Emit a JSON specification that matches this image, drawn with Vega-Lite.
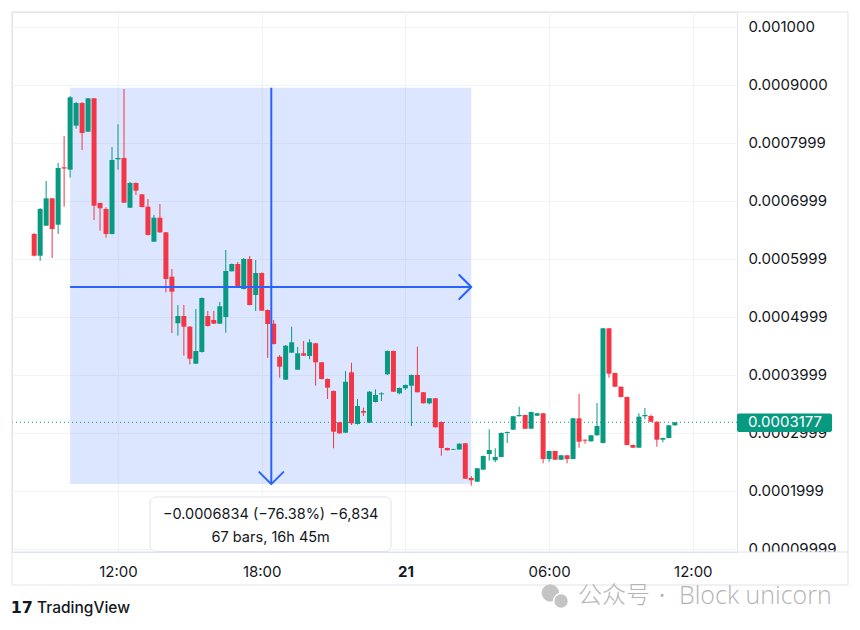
{
  "$schema": "https://vega.github.io/schema/vega-lite/v6.json",
  "width": 725,
  "height": 540,
  "autosize": {"type": "none"},
  "padding": {"left": 12, "top": 12, "right": 123, "bottom": 78},
  "background": "#ffffff",
  "config": {"view": {"stroke": "#e0e3eb", "strokeWidth": 1}, "font": "Inter", "scale": {"continuousPadding": 0}},
  "datasets": {
    "candles": [
      {"t": 8.5, "o": 0.0006425, "h": 0.0006442, "l": 0.0006037, "c": 0.0006050},
      {"t": 8.75, "o": 0.0006050, "h": 0.0006873, "l": 0.0005964, "c": 0.0006856},
      {"t": 9, "o": 0.0006568, "h": 0.0007339, "l": 0.0006563, "c": 0.0007040},
      {"t": 9.25, "o": 0.0007040, "h": 0.0007046, "l": 0.0006011, "c": 0.0006511},
      {"t": 9.5, "o": 0.0006585, "h": 0.0007649, "l": 0.0006425, "c": 0.0007563},
      {"t": 9.75, "o": 0.0007575, "h": 0.0008115, "l": 0.0006896, "c": 0.0007554},
      {"t": 10, "o": 0.0007534, "h": 0.0008805, "l": 0.0007396, "c": 0.0008782},
      {"t": 10.25, "o": 0.0008293, "h": 0.0008701, "l": 0.0008241, "c": 0.0008684},
      {"t": 10.5, "o": 0.0008684, "h": 0.0008701, "l": 0.0007873, "c": 0.0008167},
      {"t": 10.75, "o": 0.0008189, "h": 0.0008770, "l": 0.0008184, "c": 0.0008765},
      {"t": 11, "o": 0.0008765, "h": 0.0008770, "l": 0.0006666, "c": 0.0006913},
      {"t": 11.25, "o": 0.0006959, "h": 0.0006968, "l": 0.0006482, "c": 0.0006868},
      {"t": 11.5, "o": 0.0006856, "h": 0.0006885, "l": 0.0006361, "c": 0.0006425},
      {"t": 11.75, "o": 0.0006425, "h": 0.0007925, "l": 0.0006416, "c": 0.0007701},
      {"t": 12, "o": 0.0007713, "h": 0.0008317, "l": 0.0007534, "c": 0.0007736},
      {"t": 12.25, "o": 0.0007736, "h": 0.0008926, "l": 0.0006959, "c": 0.0006965},
      {"t": 12.5, "o": 0.0006878, "h": 0.0007322, "l": 0.0006873, "c": 0.0007304},
      {"t": 12.75, "o": 0.0007304, "h": 0.0007313, "l": 0.0007097, "c": 0.0007172},
      {"t": 13, "o": 0.0007109, "h": 0.0007115, "l": 0.0006882, "c": 0.0006890},
      {"t": 13.25, "o": 0.0006896, "h": 0.0007028, "l": 0.0006399, "c": 0.0006408},
      {"t": 13.5, "o": 0.0006292, "h": 0.0006752, "l": 0.0006287, "c": 0.0006706},
      {"t": 13.75, "o": 0.0006706, "h": 0.0006942, "l": 0.0006442, "c": 0.0006454},
      {"t": 14, "o": 0.0006454, "h": 0.0006459, "l": 0.0005419, "c": 0.0005649},
      {"t": 14.25, "o": 0.0005688, "h": 0.0005821, "l": 0.0004717, "c": 0.0005430},
      {"t": 14.5, "o": 0.0004885, "h": 0.0005200, "l": 0.0004671, "c": 0.0005010},
      {"t": 14.75, "o": 0.0005010, "h": 0.0005200, "l": 0.0004326, "c": 0.0004826},
      {"t": 15, "o": 0.0004826, "h": 0.0004838, "l": 0.0004177, "c": 0.0004274},
      {"t": 15.25, "o": 0.0004188, "h": 0.0005131, "l": 0.0004183, "c": 0.0004407},
      {"t": 15.5, "o": 0.0004390, "h": 0.0005330, "l": 0.0004381, "c": 0.0005321},
      {"t": 15.75, "o": 0.0005010, "h": 0.0005097, "l": 0.0004829, "c": 0.0004838},
      {"t": 16, "o": 0.0004942, "h": 0.0005097, "l": 0.0004873, "c": 0.0004878},
      {"t": 16.25, "o": 0.0004878, "h": 0.0005252, "l": 0.0004873, "c": 0.0005178},
      {"t": 16.5, "o": 0.0004993, "h": 0.0006149, "l": 0.0004722, "c": 0.0005787},
      {"t": 16.75, "o": 0.0005781, "h": 0.0005916, "l": 0.0005778, "c": 0.0005907},
      {"t": 17, "o": 0.0005907, "h": 0.0005942, "l": 0.0005502, "c": 0.0005505},
      {"t": 17.25, "o": 0.0005476, "h": 0.0006011, "l": 0.0005468, "c": 0.0005994},
      {"t": 17.5, "o": 0.0005994, "h": 0.0006045, "l": 0.0005192, "c": 0.0005200},
      {"t": 17.75, "o": 0.0005373, "h": 0.0005976, "l": 0.0005097, "c": 0.0005752},
      {"t": 18, "o": 0.0005752, "h": 0.0005761, "l": 0.0005097, "c": 0.0005102},
      {"t": 18.25, "o": 0.0005114, "h": 0.0005123, "l": 0.0004286, "c": 0.0004873},
      {"t": 18.5, "o": 0.0004878, "h": 0.0004942, "l": 0.0004519, "c": 0.0004528},
      {"t": 18.75, "o": 0.0004309, "h": 0.0004338, "l": 0.0003946, "c": 0.0004136},
      {"t": 19, "o": 0.0003912, "h": 0.0004510, "l": 0.0003907, "c": 0.0004498},
      {"t": 19.25, "o": 0.0004378, "h": 0.0004826, "l": 0.0004372, "c": 0.0004557},
      {"t": 19.5, "o": 0.0004084, "h": 0.0004476, "l": 0.0004079, "c": 0.0004367},
      {"t": 19.75, "o": 0.0004367, "h": 0.0004579, "l": 0.0004321, "c": 0.0004326},
      {"t": 20, "o": 0.0004321, "h": 0.0004609, "l": 0.0004264, "c": 0.0004557},
      {"t": 20.25, "o": 0.0004540, "h": 0.0004545, "l": 0.0003808, "c": 0.0004212},
      {"t": 20.5, "o": 0.0004212, "h": 0.0004217, "l": 0.0003915, "c": 0.0003924},
      {"t": 20.75, "o": 0.0003924, "h": 0.0003933, "l": 0.0003579, "c": 0.0003774},
      {"t": 21, "o": 0.0003717, "h": 0.0003726, "l": 0.0002729, "c": 0.0003015},
      {"t": 21.25, "o": 0.0003177, "h": 0.0003182, "l": 0.0002981, "c": 0.0002987},
      {"t": 21.5, "o": 0.0002998, "h": 0.0004062, "l": 0.0002993, "c": 0.0003877},
      {"t": 21.75, "o": 0.0004039, "h": 0.0004205, "l": 0.0003131, "c": 0.0003160},
      {"t": 22, "o": 0.0003148, "h": 0.0003579, "l": 0.0003139, "c": 0.0003458},
      {"t": 22.25, "o": 0.0003372, "h": 0.0003429, "l": 0.0003286, "c": 0.0003343},
      {"t": 22.5, "o": 0.0003170, "h": 0.0003717, "l": 0.0003165, "c": 0.0003705},
      {"t": 22.75, "o": 0.0003527, "h": 0.0003746, "l": 0.0003519, "c": 0.0003648},
      {"t": 23, "o": 0.0003660, "h": 0.0003695, "l": 0.0003545, "c": 0.0003677},
      {"t": 23.25, "o": 0.0004005, "h": 0.0004415, "l": 0.0003993, "c": 0.0004407},
      {"t": 23.5, "o": 0.0004407, "h": 0.0004415, "l": 0.0003700, "c": 0.0003705},
      {"t": 23.75, "o": 0.0003677, "h": 0.0003777, "l": 0.0003660, "c": 0.0003769},
      {"t": 24, "o": 0.0003764, "h": 0.0003829, "l": 0.0003734, "c": 0.0003820},
      {"t": 24.25, "o": 0.0003808, "h": 0.0004002, "l": 0.0003113, "c": 0.0003993},
      {"t": 24.5, "o": 0.0003993, "h": 0.0004481, "l": 0.0003691, "c": 0.0003695},
      {"t": 24.75, "o": 0.0003695, "h": 0.0003700, "l": 0.0003501, "c": 0.0003505},
      {"t": 25, "o": 0.0003505, "h": 0.0003596, "l": 0.0003488, "c": 0.0003591},
      {"t": 25.25, "o": 0.0003591, "h": 0.0003596, "l": 0.0003087, "c": 0.0003091},
      {"t": 25.5, "o": 0.0003182, "h": 0.0003191, "l": 0.0002601, "c": 0.0002734},
      {"t": 25.75, "o": 0.0002734, "h": 0.0002739, "l": 0.0002691, "c": 0.0002694},
      {"t": 26, "o": 0.0002705, "h": 0.0002722, "l": 0.0002699, "c": 0.0002717},
      {"t": 26.25, "o": 0.0002708, "h": 0.0002812, "l": 0.0002705, "c": 0.0002808},
      {"t": 26.5, "o": 0.0002815, "h": 0.0002820, "l": 0.0002199, "c": 0.0002204},
      {"t": 26.75, "o": 0.0002216, "h": 0.0002251, "l": 0.0002084, "c": 0.0002177},
      {"t": 27, "o": 0.0002153, "h": 0.0002389, "l": 0.0002147, "c": 0.0002384},
      {"t": 27.25, "o": 0.0002360, "h": 0.0002605, "l": 0.0002354, "c": 0.0002596},
      {"t": 27.5, "o": 0.0002630, "h": 0.0003056, "l": 0.0002515, "c": 0.0002699},
      {"t": 27.75, "o": 0.0002522, "h": 0.0002729, "l": 0.0002487, "c": 0.0002579},
      {"t": 28, "o": 0.0002579, "h": 0.0003001, "l": 0.0002573, "c": 0.0002993},
      {"t": 28.25, "o": 0.0002993, "h": 0.0003018, "l": 0.0002820, "c": 0.0003010},
      {"t": 28.5, "o": 0.0003050, "h": 0.0003286, "l": 0.0003044, "c": 0.0003281},
      {"t": 28.75, "o": 0.0003281, "h": 0.0003446, "l": 0.0003277, "c": 0.0003303},
      {"t": 29, "o": 0.0003303, "h": 0.0003308, "l": 0.0003062, "c": 0.0003067},
      {"t": 29.25, "o": 0.0003067, "h": 0.0003360, "l": 0.0003062, "c": 0.0003355},
      {"t": 29.5, "o": 0.0003291, "h": 0.0003338, "l": 0.0003286, "c": 0.0003332},
      {"t": 29.75, "o": 0.0003332, "h": 0.0003338, "l": 0.0002470, "c": 0.0002544},
      {"t": 30, "o": 0.0002544, "h": 0.0002687, "l": 0.0002498, "c": 0.0002682},
      {"t": 30.25, "o": 0.0002682, "h": 0.0002687, "l": 0.0002527, "c": 0.0002532},
      {"t": 30.5, "o": 0.0002532, "h": 0.0002613, "l": 0.0002527, "c": 0.0002608},
      {"t": 30.75, "o": 0.0002608, "h": 0.0002613, "l": 0.0002470, "c": 0.0002544},
      {"t": 31, "o": 0.0002544, "h": 0.0003251, "l": 0.0002539, "c": 0.0003246},
      {"t": 31.25, "o": 0.0003246, "h": 0.0003665, "l": 0.0002739, "c": 0.0002843},
      {"t": 31.5, "o": 0.0002877, "h": 0.0002880, "l": 0.0002808, "c": 0.0002860},
      {"t": 31.75, "o": 0.0002849, "h": 0.0002958, "l": 0.0002846, "c": 0.0002953},
      {"t": 32, "o": 0.0002953, "h": 0.0003510, "l": 0.0002949, "c": 0.0003113},
      {"t": 32.25, "o": 0.0002820, "h": 0.0004804, "l": 0.0002815, "c": 0.0004798},
      {"t": 32.5, "o": 0.0004798, "h": 0.0004804, "l": 0.0003946, "c": 0.0004015},
      {"t": 32.75, "o": 0.0004027, "h": 0.0004033, "l": 0.0003786, "c": 0.0003791},
      {"t": 33, "o": 0.0003791, "h": 0.0003795, "l": 0.0003608, "c": 0.0003613},
      {"t": 33.25, "o": 0.0003613, "h": 0.0003619, "l": 0.0002780, "c": 0.0002786},
      {"t": 33.5, "o": 0.0002786, "h": 0.0002791, "l": 0.0002734, "c": 0.0002739},
      {"t": 33.75, "o": 0.0002739, "h": 0.0003332, "l": 0.0002734, "c": 0.0003274},
      {"t": 34, "o": 0.0003281, "h": 0.0003424, "l": 0.0003229, "c": 0.0003303},
      {"t": 34.25, "o": 0.0003286, "h": 0.0003308, "l": 0.0003182, "c": 0.0003187},
      {"t": 34.5, "o": 0.0003187, "h": 0.0003191, "l": 0.0002756, "c": 0.0002877},
      {"t": 34.75, "o": 0.0002877, "h": 0.0002912, "l": 0.0002832, "c": 0.0002906},
      {"t": 35, "o": 0.0002906, "h": 0.0003131, "l": 0.0002901, "c": 0.0003125},
      {"t": 35.25, "o": 0.0003125, "h": 0.0003182, "l": 0.0003120, "c": 0.0003177}
    ]
  },
  "layer": [
    {
      "data": {"values": [{"t": 10, "t2": 26.75, "p": 0.0002111, "p2": 0.0008945}]},
      "mark": {"type": "rect", "fill": "#2962FF", "fillOpacity": 0.16},
      "encoding": {
        "x": {
          "field": "t", "type": "quantitative",
          "scale": {"domain": [7.574, 37.845], "nice": false, "zero": false, "padding": 0},
          "axis": {
            "orient": "bottom", "values": [12, 18, 24, 30, 36],
            "labelExpr": "datum.value == 24 ? '21' : (datum.value % 24 < 10 ? '0' + (datum.value % 24) : '' + (datum.value % 24)) + ':00'",
            "grid": true, "gridColor": "#f0f3fa", "gridWidth": 1,
            "domain": false, "ticks": false, "labelPadding": 12,
            "labelFont": "Inter", "labelFontSize": 15, "labelColor": "#131722",
            "labelFontWeight": {"condition": {"test": "datum.value == 24", "value": "bold"}, "value": "normal"},
            "title": null
          }
        },
        "x2": {"field": "t2"},
        "y": {
          "field": "p", "type": "quantitative",
          "scale": {"domain": [0.0000940, 0.00102535], "nice": false, "zero": false, "padding": 0},
          "axis": {
            "orient": "right",
            "values": [0.0001, 0.0002, 0.0003, 0.0004, 0.0005, 0.0006, 0.0007, 0.0008, 0.0009, 0.001],
            "labelExpr": "['', '0.00009999', '0.0001999', '0.0002999', '0.0003999', '0.0004999', '0.0005999', '0.0006999', '0.0007999', '0.0009000', '0.001000'][round(datum.value * 10000)]",
            "grid": true, "gridColor": "#f0f3fa", "gridWidth": 1,
            "domain": false, "ticks": false, "labelPadding": 11,
            "labelFont": "Inter", "labelFontSize": 15, "labelColor": "#131722",
            "title": null
          }
        },
        "y2": {"field": "p2"}
      }
    },
    {
      "data": {"values": [{"p": 0.0003177}]},
      "mark": {"type": "rule", "color": "#089981", "strokeDash": [1, 3], "strokeWidth": 1},
      "encoding": {"y": {"field": "p", "type": "quantitative", "title": null}}
    },
    {
      "data": {"name": "candles"},
      "mark": {"type": "rule", "strokeWidth": 1},
      "encoding": {
        "x": {"field": "t", "type": "quantitative", "title": null},
        "y": {"field": "l", "type": "quantitative", "title": null},
        "y2": {"field": "h"},
        "color": {"condition": {"test": "datum.c >= datum.o", "value": "#089981"}, "value": "#F23645"}
      }
    },
    {
      "data": {"name": "candles"},
      "mark": {"type": "bar", "size": 5},
      "encoding": {
        "x": {"field": "t", "type": "quantitative", "title": null},
        "y": {"field": "o", "type": "quantitative", "title": null},
        "y2": {"field": "c"},
        "color": {"condition": {"test": "datum.c >= datum.o", "value": "#089981"}, "value": "#F23645"}
      }
    },
    {
      "data": {"values": [
        {"t": 10, "t2": 26.75, "p": 0.000551, "p2": 0.000551},
        {"t": 18.4, "t2": 18.4, "p": 0.0002111, "p2": 0.0008945}
      ]},
      "mark": {"type": "rule", "color": "#2962FF", "strokeWidth": 2},
      "encoding": {
        "x": {"field": "t", "type": "quantitative", "title": null},
        "x2": {"field": "t2"},
        "y": {"field": "p", "type": "quantitative", "title": null},
        "y2": {"field": "p2"}
      }
    },
    {
      "data": {"values": [{"t": 26.75, "p": 0.000551}]},
      "mark": {"type": "point", "shape": "M-1,-1L0,0L-1,1", "size": 576, "filled": false, "stroke": "#2962FF", "strokeWidth": 2, "opacity": 1, "strokeCap": "round", "strokeJoin": "round"},
      "encoding": {
        "x": {"field": "t", "type": "quantitative", "title": null},
        "y": {"field": "p", "type": "quantitative", "title": null}
      }
    },
    {
      "data": {"values": [{"t": 18.4, "p": 0.0002111}]},
      "mark": {"type": "point", "shape": "M-1,-1L0,0L1,-1", "size": 576, "filled": false, "stroke": "#2962FF", "strokeWidth": 2, "opacity": 1, "strokeCap": "round", "strokeJoin": "round"},
      "encoding": {
        "x": {"field": "t", "type": "quantitative", "title": null},
        "y": {"field": "p", "type": "quantitative", "title": null}
      }
    },
    {
      "data": {"values": [{"t": 13.336, "t2": 23.399, "p": 0.0000950, "p2": 0.0001889}]},
      "mark": {"type": "rect", "fill": "#ffffff", "stroke": "#e0e3eb", "strokeWidth": 1, "cornerRadius": 6},
      "encoding": {
        "x": {"field": "t", "type": "quantitative", "title": null},
        "x2": {"field": "t2"},
        "y": {"field": "p", "type": "quantitative", "title": null},
        "y2": {"field": "p2"}
      }
    },
    {
      "data": {"values": [
        {"t": 18.375, "p": 0.0001578, "label": "−0.0006834 (−76.38%) −6,834"},
        {"t": 18.375, "p": 0.0001182, "label": "67 bars, 16h 45m"}
      ]},
      "mark": {"type": "text", "font": "Inter", "fontSize": 14.5, "color": "#131722", "align": "center", "baseline": "middle"},
      "encoding": {
        "x": {"field": "t", "type": "quantitative", "title": null},
        "y": {"field": "p", "type": "quantitative", "title": null},
        "text": {"field": "label"}
      }
    },
    {
      "data": {"values": [{"t": 37.9, "t2": 42.44, "p": 0.0000380, "p2": 0.0000940}]},
      "mark": {"type": "rect", "fill": "#ffffff"},
      "encoding": {
        "x": {"field": "t", "type": "quantitative", "title": null},
        "x2": {"field": "t2"},
        "y": {"field": "p", "type": "quantitative", "title": null},
        "y2": {"field": "p2"}
      }
    },
    {
      "data": {"values": [{"t": 7.574, "t2": 42.48, "p": 0.0000940, "p2": 0.0000940}]},
      "mark": {"type": "rule", "color": "#e0e3eb", "strokeWidth": 1},
      "encoding": {
        "x": {"field": "t", "type": "quantitative", "title": null},
        "x2": {"field": "t2"},
        "y": {"field": "p", "type": "quantitative", "title": null},
        "y2": {"field": "p2"}
      }
    },
    {
      "data": {"values": [{"t": 7.574, "t2": 42.48, "p": 0.0000371, "p2": 0.00102535}]},
      "mark": {"type": "rect", "fill": null, "fillOpacity": 0, "stroke": "#e0e3eb", "strokeWidth": 1},
      "encoding": {
        "x": {"field": "t", "type": "quantitative", "title": null},
        "x2": {"field": "t2"},
        "y": {"field": "p", "type": "quantitative", "title": null},
        "y2": {"field": "p2"}
      }
    },
    {
      "data": {"values": [{"t": 37.845, "t2": 41.812, "p": 0.0003010, "p2": 0.0003330}]},
      "mark": {"type": "rect", "fill": "#089981", "cornerRadius": 2},
      "encoding": {
        "x": {"field": "t", "type": "quantitative", "title": null},
        "x2": {"field": "t2"},
        "y": {"field": "p", "type": "quantitative", "title": null},
        "y2": {"field": "p2"}
      }
    },
    {
      "data": {"values": [{"t": 38.305, "p": 0.0003177, "label": "0.0003177"}]},
      "mark": {"type": "text", "font": "Inter", "fontSize": 15, "color": "#ffffff", "align": "left", "baseline": "middle"},
      "encoding": {
        "x": {"field": "t", "type": "quantitative", "title": null},
        "y": {"field": "p", "type": "quantitative", "title": null},
        "text": {"field": "label"}
      }
    },
    {
      "data": {"values": [{"t": 8.618, "p": -0.0000026, "label": "TradingView"}]},
      "mark": {"type": "text", "font": "Inter", "fontSize": 15.5, "fontWeight": 500, "color": "#131722", "align": "left", "baseline": "middle"},
      "encoding": {
        "x": {"field": "t", "type": "quantitative", "title": null},
        "y": {"field": "p", "type": "quantitative", "title": null},
        "text": {"field": "label"}
      }
    },
    {
      "data": {"values": [{"t": 7.52, "p": -0.0000026, "label": "17"}]},
      "mark": {"type": "text", "font": "DejaVu Sans", "fontSize": 16, "fontWeight": "bold", "color": "#131722", "align": "left", "baseline": "middle"},
      "encoding": {
        "x": {"field": "t", "type": "quantitative", "title": null},
        "y": {"field": "p", "type": "quantitative", "title": null},
        "text": {"field": "label"}
      }
    },
    {
      "data": {"values": [{"t": 30.05, "p": 0.0000233}]},
      "mark": {"type": "point", "shape": "circle", "size": 300, "filled": true, "color": "#c4c4c4", "opacity": 1},
      "encoding": {
        "x": {"field": "t", "type": "quantitative", "title": null},
        "y": {"field": "p", "type": "quantitative", "title": null}
      }
    },
    {
      "data": {"values": [{"t": 30.5, "p": 0.0000095}]},
      "mark": {"type": "point", "shape": "circle", "size": 220, "filled": true, "color": "#c4c4c4", "stroke": "#ffffff", "strokeWidth": 1.5, "opacity": 1},
      "encoding": {
        "x": {"field": "t", "type": "quantitative", "title": null},
        "y": {"field": "p", "type": "quantitative", "title": null}
      }
    },
    {
      "data": {"values": [{"t": 31.207, "p": 0.0000181, "label": "公众号"}]},
      "mark": {"type": "text", "font": "Noto Sans CJK SC", "fontSize": 24, "fontWeight": 300, "color": "#b4b4b4", "align": "left", "baseline": "middle"},
      "encoding": {
        "x": {"field": "t", "type": "quantitative", "title": null},
        "y": {"field": "p", "type": "quantitative", "title": null},
        "text": {"field": "label"}
      }
    },
    {
      "data": {"values": [{"t": 34.714, "p": 0.0000181, "label": "·"}]},
      "mark": {"type": "text", "font": "Open Sans", "fontSize": 25, "color": "#b4b4b4", "align": "center", "baseline": "middle"},
      "encoding": {
        "x": {"field": "t", "type": "quantitative", "title": null},
        "y": {"field": "p", "type": "quantitative", "title": null},
        "text": {"field": "label"}
      }
    },
    {
      "data": {"values": [{"t": 35.424, "p": 0.0000181, "label": "Block unicorn"}]},
      "mark": {"type": "text", "font": "Open Sans", "fontSize": 25, "fontWeight": 300, "color": "#b4b4b4", "align": "left", "baseline": "middle"},
      "encoding": {
        "x": {"field": "t", "type": "quantitative", "title": null},
        "y": {"field": "p", "type": "quantitative", "title": null},
        "text": {"field": "label"}
      }
    }
  ]
}
